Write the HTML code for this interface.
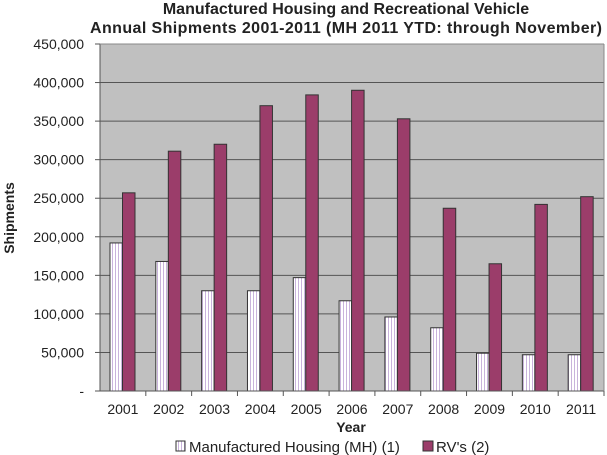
<!DOCTYPE html>
<html><head><meta charset="utf-8"><style>
body{margin:0;background:#fff;}
svg{display:block;font-family:"Liberation Sans",Arial,sans-serif;}
</style></head><body>
<svg id="c" width="607" height="455">
<text x="346" y="14" text-anchor="middle" font-size="16" font-weight="bold" fill="#222">Manufactured Housing and Recreational Vehicle</text>
<text x="346" y="33" text-anchor="middle" font-size="16" font-weight="bold" fill="#222" textLength="512">Annual Shipments 2001-2011 (MH 2011 YTD: through November)</text>
<defs><pattern id="vs" width="3" height="4" patternUnits="userSpaceOnUse"><rect width="3" height="4" fill="#fff"/><rect x="1" width="1" height="4" fill="#c9b3dc"/></pattern></defs>
<rect x="100" y="44" width="504" height="347" fill="#c0c0c0"/>
<g id="grid"></g><g id="bars"></g><g id="axes"></g>
<text transform="translate(14,218) rotate(-90)" text-anchor="middle" font-size="14" font-weight="bold" fill="#222">Shipments</text>
<text x="351" y="432" text-anchor="middle" font-size="14" font-weight="bold" fill="#222">Year</text>
<g>
<rect x="176" y="441" width="9" height="10" fill="url(#vs)" stroke="#333"/>
<text x="189" y="452" font-size="15" fill="#222">Manufactured Housing (MH) (1)</text>
<rect x="423" y="441" width="10" height="10" fill="#9b3d6a" stroke="#333"/>
<text x="436" y="452" font-size="15" fill="#222">RV's (2)</text>
</g>
</svg>
<script>
const years=["2001","2002","2003","2004","2005","2006","2007","2008","2009","2010","2011"];
const mhValues=[192000,168000,130000,130000,147000,117000,96000,82000,49000,47000,47000];
const rvValues=[257000,311000,320000,370000,384000,390000,353000,237000,165000,242000,252000];
const yTicks=[0,50000,100000,150000,200000,250000,300000,350000,400000,450000];
const yTickLabels=["-","50,000","100,000","150,000","200,000","250,000","300,000","350,000","400,000","450,000"];
const NS="http://www.w3.org/2000/svg";
const L=100,R=604,T=44,B=391,cw=(R-L)/years.length;
function y(v){return B-(v/450000)*(B-T);}
function x(i){return L+i*cw;}
function mk(t,a,p){const e=document.createElementNS(NS,t);for(const k in a)e.setAttribute(k,a[k]);p.appendChild(e);return e;}
const g=document.getElementById('grid'),b=document.getElementById('bars'),ax=document.getElementById('axes');
yTicks.forEach((v,i)=>{
 if(v>0){const l=mk('line',{x1:L,x2:R,y1:y(v),y2:y(v),stroke:'#555','stroke-width':1},g);
 
 }
 const tk=mk('line',{x1:L-5,x2:L,y1:y(v),y2:y(v),stroke:'#555'},ax);
 
 
 const t=mk('text',{x:L-16,y:y(v)+5,'text-anchor':'end','font-size':14,fill:'#222'},ax);
 t.textContent=yTickLabels[i];
 
 
});
years.forEach((yr,i)=>{
 const bw=12.5,x0=x(i)+10;
 const m=mk('rect',{x:x0,y:y(mhValues[i]),width:bw,height:B-y(mhValues[i]),fill:'url(#vs)',stroke:'#333','stroke-width':1},b);
 
 
 const r=mk('rect',{x:x0+bw,y:y(rvValues[i]),width:bw,height:B-y(rvValues[i]),fill:'#9b3d6a',stroke:'#333','stroke-width':1},b);
 
 
 const tk=mk('line',{x1:x(i+1),x2:x(i+1),y1:B,y2:B+5,stroke:'#555'},ax);
 
 
 const t=mk('text',{x:x(i)+cw/2,y:B+23,'text-anchor':'middle','font-size':14,fill:'#222'},ax);
 t.textContent=yr;
 
 
});
mk('line',{x1:L,x2:L,y1:T,y2:B,stroke:'#555'},ax);
mk('line',{x1:L,x2:R,y1:B,y2:B,stroke:'#555'},ax);
mk('line',{x1:R,x2:R,y1:T,y2:B,stroke:'#888'},ax);
mk('line',{x1:L,x2:R,y1:T,y2:T,stroke:'#888'},ax);
</script>
</body></html>
